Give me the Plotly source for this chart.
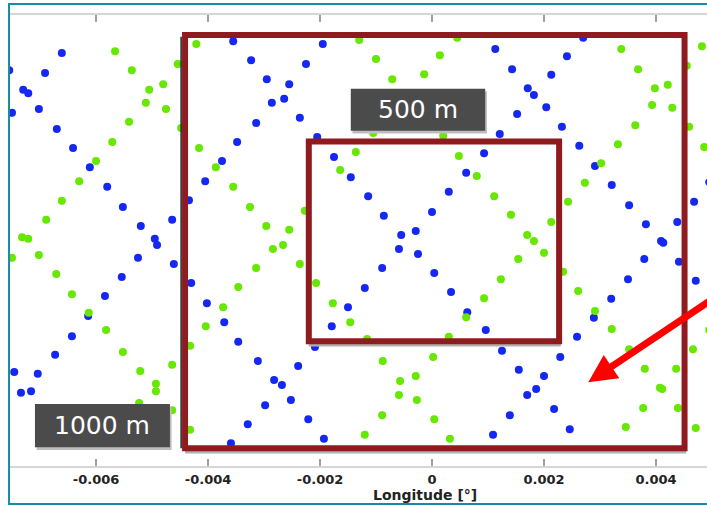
import plotly.graph_objects as go

# ---------------- data (degrees) ----------------
blue_lon = [-0.00755, -0.00661, -0.00691, -0.00730, -0.00721, -0.00750, -0.00702, -0.00670, -0.00641, -0.00611,
            -0.00355, -0.00348, -0.00375, -0.00195, -0.00323, -0.00225, -0.00295, -0.00255, -0.00286, -0.00264,
            -0.00314, -0.00236, -0.00205, -0.00175, 0.00270, 0.00113, 0.00241, 0.00143, 0.00213, 0.00171,
            0.00182, 0.00204, 0.00152, 0.00232, 0.00121, 0.00263, 0.00093, 0.00291, -0.00580, -0.00552,
            -0.00520, -0.00495, -0.00491, -0.00525, -0.00554, -0.00584, -0.00614, -0.00464, -0.00461, -0.00434,
            -0.00430, -0.00405, -0.00402, -0.00371, -0.00145, -0.00114, -0.00086, -0.00055, -0.00029, -0.00059,
            -0.00025, -0.00089, -0.00120, -0.00150, -0.00179, 0.00000, 0.00030, 0.00061, 0.00004, 0.00034,
            0.00063, 0.00321, 0.00352, 0.00382, 0.00438, 0.00409, 0.00413, 0.00441, 0.00379, 0.00350,
            0.00320, 0.00289, 0.00468, 0.00471, 0.00096, 0.00495, -0.00746, -0.00734, -0.00716, -0.00704,
            -0.00673, -0.00643, -0.00359, -0.00346, -0.00311, -0.00239, -0.00282, -0.00268, -0.00252, -0.00298,
            -0.00221, -0.00329, -0.00193, -0.00209, 0.00259, 0.00125, 0.00229, 0.00155, 0.00200, 0.00186,
            0.00170, 0.00218, 0.00139, 0.00246, 0.00109]
blue_lat = [0.00304, 0.00335, 0.00299, 0.00269, 0.00263, 0.00228, 0.00235, 0.00199, 0.00165, 0.00131,
            0.00356, 0.00176, 0.00142, 0.00351, 0.00322, 0.00315, 0.00288, 0.00279, 0.00246, 0.00253,
            0.00210, 0.00219, 0.00185, 0.00149, 0.00362, 0.00342, 0.00329, 0.00306, 0.00296, 0.00272,
            0.00260, 0.00238, 0.00226, 0.00203, 0.00190, 0.00169, 0.00156, 0.00133, 0.00096, 0.00060,
            0.00026, 0.00003, -0.00008, -0.00031, -0.00065, -0.00099, -0.00135, 0.00037, -0.00042, 0.00072,
            -0.00076, 0.00106, -0.00112, -0.00146, 0.00113, 0.00079, 0.00044, 0.00010, 0.00017, -0.00015,
            -0.00024, -0.00049, -0.00085, -0.00119, -0.00153, 0.00051, 0.00087, 0.00121, -0.00058, -0.00092,
            -0.00128, 0.00099, 0.00063, 0.00029, 0.00033, -0.00001, -0.00004, -0.00038, -0.00033, -0.00069,
            -0.00104, -0.00138, 0.00069, -0.00072, -0.00160, 0.00104, -0.00235, -0.00272, -0.00269, -0.00238,
            -0.00204, -0.00171, -0.00362, -0.00181, -0.00215, -0.00224, -0.00249, -0.00258, -0.00285, -0.00294,
            -0.00319, -0.00328, -0.00354, -0.00190, -0.00172, -0.00197, -0.00208, -0.00231, -0.00242, -0.00265,
            -0.00276, -0.00301, -0.00312, -0.00337, -0.00347]

green_lon = [-0.00566, -0.00536, -0.00505, -0.00480, -0.00511, -0.00475, -0.00541, -0.00571, -0.00600, -0.00454,
             -0.00421, -0.00416, -0.00386, -0.00130, -0.00100, -0.00071, -0.00014, 0.00014, 0.00045, -0.00105,
             0.00020, -0.00136, 0.00048, -0.00164, 0.00338, 0.00368, 0.00398, 0.00421, 0.00393, 0.00429,
             0.00363, 0.00332, 0.00302, 0.00482, 0.00455, 0.00459, 0.00486, -0.00630, -0.00661, -0.00689,
             -0.00732, -0.00721, -0.00750, -0.00702, -0.00671, -0.00643, -0.00613, -0.00582, -0.00355, -0.00346,
             -0.00373, -0.00404, -0.00325, -0.00296, -0.00255, -0.00284, -0.00266, -0.00314, -0.00236, -0.00227,
             -0.00207, -0.00177, -0.00146, 0.00061, 0.00080, 0.00111, 0.00141, 0.00170, 0.00182, 0.00213,
             0.00200, 0.00154, 0.00123, 0.00093, 0.00273, 0.00243, 0.00234, 0.00261, 0.00291, 0.00321,
             0.00495, 0.00466, 0.00380, 0.00436, 0.00407, 0.00377, 0.00439, 0.00471, -0.00552, -0.00521,
             -0.00493, -0.00493, -0.00464, -0.00464, -0.00523, -0.00432, -0.00432, -0.00088, -0.00057, -0.00029,
             -0.00059, -0.00027, -0.00089, 0.00002, 0.00004, -0.00120, 0.00032, 0.00030, -0.00116, 0.00352,
             0.00346, 0.00411, -0.00448]
green_lat = [0.00338, 0.00304, 0.00269, 0.00279, 0.00246, 0.00235, 0.00212, 0.00176, 0.00142, 0.00315,
             0.00351, 0.00165, 0.00131, 0.00358, 0.00324, 0.00288, 0.00297, 0.00331, 0.00362, 0.00192,
             0.00187, 0.00158, 0.00151, 0.00126, 0.00342, 0.00306, 0.00272, 0.00278, 0.00242, 0.00237,
             0.00206, 0.00172, 0.00138, 0.00347, 0.00312, 0.00203, 0.00167, 0.00106, 0.00071, 0.00037,
             0.00006, 0.00003, -0.00031, -0.00026, -0.00060, -0.00096, -0.00129, -0.00160, 0.00096, -0.00083,
             -0.00119, -0.00153, 0.00060, 0.00026, 0.00019, -0.00015, -0.00008, -0.00049, -0.00042, 0.00053,
             -0.00076, -0.00112, -0.00146, -0.00137, 0.00115, 0.00079, 0.00046, 0.00010, -0.00001, 0.00033,
             -0.00022, -0.00033, -0.00069, -0.00103, 0.00103, 0.00069, -0.00056, -0.00090, -0.00126, -0.00158,
             -0.00160, -0.00194, -0.00229, -0.00229, -0.00263, -0.00299, -0.00299, -0.00335, -0.00199, -0.00233,
             -0.00256, -0.00269, -0.00222, -0.00303, -0.00290, -0.00188, -0.00338, -0.00215, -0.00251, -0.00242,
             -0.00276, -0.00285, -0.00312, -0.00208, -0.00319, -0.00347, -0.00354, -0.00172, -0.00176, -0.00194,
             -0.00333, -0.00265, 0.00201]

tick_vals = [-0.006, -0.004, -0.002, 0, 0.002, 0.004]
tick_text = ["-0.006", "-0.004", "-0.002", "0", "0.002", "0.004"]
x_title = "Longitude [°]"

# regions (degrees): 1000 m square and 500 m square
outer_box = dict(x0=-0.00441, x1=0.00451, y0=-0.00371, y1=0.00367)
inner_box = dict(x0=-0.00220, x1=0.00227, y0=-0.00180, y1=0.00177)
label_500 = dict(text="500 m", x0=-0.00145, x1=0.00095, y0=0.00196, y1=0.00271)
label_1000 = dict(text="1000 m", x0=-0.00709, x1=-0.00468, y0=-0.00369, y1=-0.00292)
arrow_tip = (0.00279, -0.00253)
arrow_tail = (0.00505, -0.00102)

BLUE = "#1428f2"
GREEN = "#66e800"
DARKRED = "#901b1f"
BOXGRAY = "#4b4b4b"

fig = go.Figure()
fig.add_trace(go.Scatter(x=blue_lon, y=blue_lat, mode="markers",
                         marker=dict(size=8, color=BLUE, line=dict(width=0)),
                         showlegend=False, hoverinfo="skip"))
fig.add_trace(go.Scatter(x=green_lon, y=green_lat, mode="markers",
                         marker=dict(size=8, color=GREEN, line=dict(width=0)),
                         showlegend=False, hoverinfo="skip"))

shapes = []
shapes.append(dict(type="line", xref="x", yref="y", layer="above",
                   x0=outer_box["x0"] - 0.00007, x1=outer_box["x0"] - 0.00007,
                   y0=outer_box["y0"], y1=outer_box["y1"] - 0.00003,
                   line=dict(color="#222222", width=1.5)))
for b in (outer_box, inner_box):
    shapes.append(dict(type="line", xref="x", yref="y", layer="above",
                       x0=b["x0"], x1=b["x1"] + 0.00003, y0=b["y0"] - 0.00007, y1=b["y0"] - 0.00007,
                       line=dict(color="#b0b0b0", width=2.5)))
for b in (outer_box, inner_box):
    shapes.append(dict(type="rect", xref="x", yref="y", layer="above",
                       x0=b["x0"], x1=b["x1"], y0=b["y0"], y1=b["y1"],
                       line=dict(color=DARKRED, width=6), fillcolor="rgba(0,0,0,0)"))
for lab in (label_500, label_1000):
    shapes.append(dict(type="rect", xref="x", yref="y", layer="above",
                       x0=lab["x0"] + 0.00003, x1=lab["x1"] + 0.00003,
                       y0=lab["y0"] - 0.00005, y1=lab["y1"] - 0.00005,
                       line=dict(width=0), fillcolor="#bdbdbd"))
    shapes.append(dict(type="rect", xref="x", yref="y", layer="above",
                       x0=lab["x0"], x1=lab["x1"], y0=lab["y0"], y1=lab["y1"],
                       line=dict(width=0), fillcolor=BOXGRAY))
shapes.append(dict(type="rect", xref="paper", yref="paper", layer="above",
                   x0=-0.0014, x1=1.2, y0=-0.0843, y1=1.0244,
                   line=dict(color="#178ba4", width=2), fillcolor="rgba(0,0,0,0)"))

annotations = []
for lab in (label_500, label_1000):
    annotations.append(dict(text=lab["text"], xref="x", yref="y",
                            x=(lab["x0"] + lab["x1"]) / 2, y=(lab["y0"] + lab["y1"]) / 2,
                            showarrow=False, xanchor="center", yanchor="middle",
                            font=dict(family="DejaVu Sans", size=25, color="white")))
annotations.append(dict(text="", xref="x", yref="y", x=arrow_tip[0], y=arrow_tip[1],
                        axref="x", ayref="y", ax=arrow_tail[0], ay=arrow_tail[1],
                        showarrow=True, arrowhead=2, arrowsize=0.8, arrowwidth=7,
                        arrowcolor="#ff0000", standoff=0))
annotations.append(dict(text=x_title, xref="x", yref="paper", x=-0.00012, y=-0.064,
                        showarrow=False, xanchor="center", yanchor="middle",
                        font=dict(family="DejaVu Sans", size=14, color="#222222", weight="bold")))

fig.update_layout(
    width=707, height=506,
    margin=dict(l=10, r=0, t=15, b=40),
    paper_bgcolor="white", plot_bgcolor="white",
    shapes=shapes, annotations=annotations,
    showlegend=False,
)
fig.update_xaxes(range=[-0.0075357, 0.0049107], tickmode="array", tickvals=tick_vals, ticktext=tick_text,
                 showgrid=False, zeroline=False, showline=True, linecolor="#d6d6d6", linewidth=2,
                 mirror="ticks", ticks="inside", ticklen=7, tickwidth=1.5, tickcolor="#a0a0a0",
                 tickfont=dict(family="DejaVu Sans", size=13, color="#222222", weight="bold"))
fig.update_yaxes(range=[-0.0040268, 0.0040268], showgrid=False, zeroline=False, showline=False,
                 showticklabels=False, ticks="")

fig.write_html("out.html")
